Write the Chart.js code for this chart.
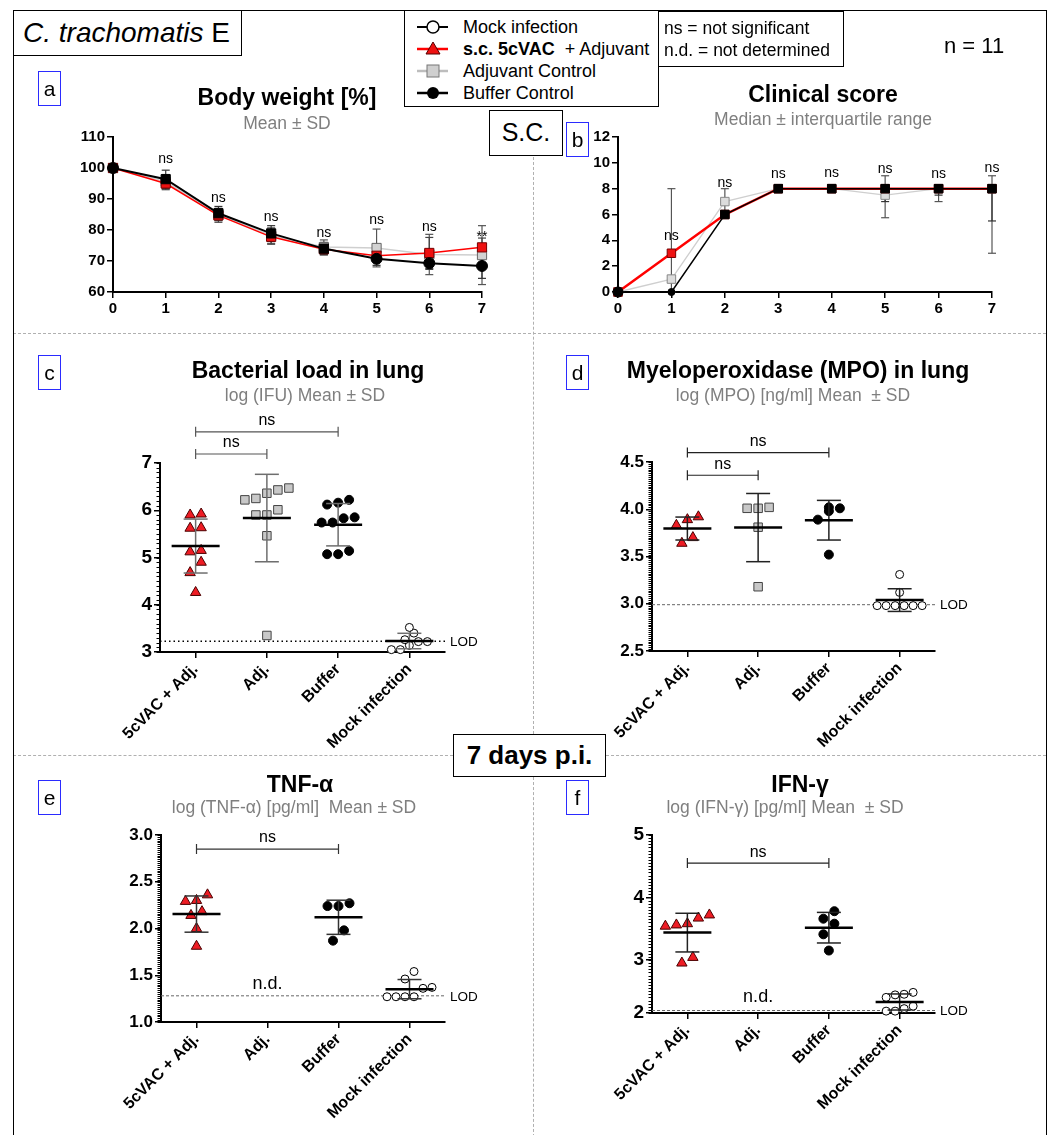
<!DOCTYPE html>
<html>
<head>
<meta charset="utf-8">
<title>C. trachomatis E</title>
<script src="https://cdn.jsdelivr.net/npm/chart.js@4.4.1/dist/chart.umd.min.js"></script>
<style>
  html, body { margin: 0; padding: 0; background: #fff; }
  body { font-family: "Liberation Sans", Arial, sans-serif; color: #000; }
  #page { position: relative; width: 1051px; height: 1135px; overflow: hidden; }
  #page > * { position: absolute; }
  .box { border: 1.5px solid #000; background: #fff; box-sizing: border-box; }
  .tag { border: 1.5px solid #2b2bff; box-sizing: border-box; width: 23px; height: 35px; font-size: 21px; line-height: 33px; text-align: center; }
  .ttl { font-weight: bold; font-size: 23px; line-height: 26px; white-space: nowrap; transform: translateX(-50%); }
  .sub { color: #7f7f7f; font-size: 17.5px; line-height: 20px; white-space: nowrap; transform: translateX(-50%); }
  .dh { height: 0; border-top: 1px dashed #b0b0b0; }
  .dv { width: 0; border-left: 1px dashed #b0b0b0; }
  .row { position: absolute; font-size: 18px; line-height: 20px; white-space: nowrap; }
</style>
</head>
<body>
<div id="page">
  <div class="dh" style="left:13px;top:333px;width:1033px;"></div>
  <div class="dh" style="left:13px;top:755px;width:440px;"></div>
  <div class="dh" style="left:606px;top:755px;width:440px;"></div>
  <div class="dv" style="left:533px;top:157px;height:577px;"></div>
  <div class="dv" style="left:533px;top:777px;height:360px;"></div>

  <canvas id="cA" width="440" height="190" style="left:63px;top:126px;"></canvas>
  <canvas id="cB" width="445" height="190" style="left:568px;top:126px;"></canvas>
  <canvas id="cC" width="380" height="365" style="left:100px;top:400px;"></canvas>
  <canvas id="cD" width="380" height="365" style="left:592px;top:400px;"></canvas>
  <canvas id="cE" width="380" height="323" style="left:100px;top:812px;"></canvas>
  <canvas id="cF" width="380" height="323" style="left:592px;top:812px;"></canvas>

  <div style="left:13px;top:10px;width:1034px;height:1200px;border:1.5px solid #000;box-sizing:border-box;"></div>

  <div class="box" style="left:13px;top:10px;width:229px;height:46px;font-size:28px;line-height:43px;padding-left:9px;"><i>C. trachomatis</i> E</div>

  <div class="box" style="left:404px;top:10px;width:255px;height:97px;">
    <svg width="255" height="97" style="position:absolute;left:0;top:0;">
      <line x1="12" y1="16" x2="43" y2="16" stroke="#000" stroke-width="2"/>
      <circle cx="28" cy="16" r="6" fill="#fff" stroke="#000" stroke-width="1.5"/>
      <line x1="12" y1="38" x2="43" y2="38" stroke="#ff0000" stroke-width="2.5"/>
      <polygon points="28,31 35,43 21,43" fill="#ee1111" stroke="#500" stroke-width="1"/>
      <line x1="12" y1="60" x2="43" y2="60" stroke="#bdbdbd" stroke-width="2.5"/>
      <rect x="22" y="54" width="12" height="12" fill="#cfcfcf" stroke="#777" stroke-width="1"/>
      <line x1="12" y1="82" x2="43" y2="82" stroke="#000" stroke-width="2.5"/>
      <circle cx="28" cy="82" r="6" fill="#000"/>
    </svg>
    <div class="row" style="left:58px;top:6px;">Mock infection</div>
    <div class="row" style="left:58px;top:28px;"><b>s.c. 5cVAC</b>&nbsp; + Adjuvant</div>
    <div class="row" style="left:58px;top:50px;">Adjuvant Control</div>
    <div class="row" style="left:58px;top:72px;">Buffer Control</div>
  </div>

  <div class="box" style="left:658px;top:11px;width:186px;height:56px;">
    <div class="row" style="left:5px;top:6px;font-size:17.5px;">ns = not significant</div>
    <div class="row" style="left:5px;top:28px;font-size:17.5px;">n.d. = not determined</div>
  </div>

  <div style="left:944px;top:34px;font-size:22px;line-height:24px;">n = 11</div>

  <div class="box" style="left:489px;top:110px;width:74px;height:46px;font-size:25px;line-height:43px;text-align:center;">S.C.</div>

  <div class="box" style="left:453px;top:734px;width:153px;height:43px;font-size:26px;font-weight:bold;line-height:40px;text-align:center;">7 days p.i.</div>

  <div class="tag" style="left:38px;top:71px;">a</div>
  <div class="tag" style="left:566px;top:122px;">b</div>
  <div class="tag" style="left:38px;top:355px;">c</div>
  <div class="tag" style="left:566px;top:355px;">d</div>
  <div class="tag" style="left:38px;top:780px;">e</div>
  <div class="tag" style="left:566px;top:780px;">f</div>

  <div class="ttl" style="left:287px;top:84px;">Body weight [%]</div>
  <div class="sub" style="left:287px;top:113px;">Mean ± SD</div>
  <div class="ttl" style="left:823px;top:81px;">Clinical score</div>
  <div class="sub" style="left:823px;top:109px;">Median ± interquartile range</div>
  <div class="ttl" style="left:308px;top:357px;">Bacterial load in lung</div>
  <div class="sub" style="left:305px;top:385px;">log (IFU) Mean ± SD</div>
  <div class="ttl" style="left:798px;top:357px;">Myeloperoxidase (MPO) in lung</div>
  <div class="sub" style="left:793px;top:385px;">log (MPO) [ng/ml] Mean &nbsp;± SD</div>
  <div class="ttl" style="left:300px;top:771px;">TNF-α</div>
  <div class="sub" style="left:294px;top:797px;">log (TNF-α) [pg/ml] &nbsp;Mean ± SD</div>
  <div class="ttl" style="left:800px;top:771px;">IFN-γ</div>
  <div class="sub" style="left:785px;top:797px;">log (IFN-γ) [pg/ml] Mean &nbsp;± SD</div>
</div>

<script>
// ---- data ----
const days = [0, 1, 2, 3, 4, 5, 6, 7];

// a: body weight [%] (mean, SD)
const bwVac = [100, 95.0, 84.7, 77.8, 73.8, 71.7, 72.6, 74.4];
const bwVacSd = [0, 2.0, 2.2, 2.4, 1.8, 1.5, 5.0, 3.0];
const bwAdj = [100, 95.6, 85.0, 78.2, 74.5, 74.2, 72.1, 71.9];
const bwAdjSd = [0, 2.3, 2.0, 2.5, 2.3, 6.1, 6.5, 9.5];
const bwBuf = [100, 96.4, 85.4, 78.9, 74.0, 70.7, 69.3, 68.4];
const bwBufSd = [0, 2.9, 2.2, 2.5, 2.0, 2.1, 2.0, 4.0];
const bwSig = ['', 'ns', 'ns', 'ns', 'ns', 'ns', 'ns', '**'];
const bwSigAt = [null, 102.8, 90.3, 84.3, 79.0, 83.2, 80.9, 77.8];

// b: clinical score (median, IQR)
const csVac = [0, 3, 6, 8, 8, 8, 8, 8];
const csAdj = [0, 1, 7, 8, 8, 7.5, 8, 8];
const csAdjLo = [0, 0, 6, 8, 8, 5.75, 7, 3];
const csAdjHi = [0, 8, 8, 8, 8, 9, 8, 9];
const csBuf = [0, 0, 6, 8, 8, 8, 8, 8];
const csBufLo = [0, 0, 6, 8, 8, 7, 7.5, 5.5];
const csBufHi = [0, 0, 6, 8, 8, 8, 8, 8];
const csSig = ['', 'ns', 'ns', 'ns', 'ns', 'ns', 'ns', 'ns'];
const csSigAt = [null, 4.3, 8.4, 9.1, 9.2, 9.5, 9.1, 9.6];

// c-f: single animals per group
const groups = ['5cVAC + Adj.', 'Adj.', 'Buffer', 'Mock infection'];

const lungVac = [5.90, 5.92, 5.62, 5.63, 5.12, 5.15, 4.90, 4.68, 4.26];
const lungAdj = [6.43, 6.47, 6.25, 6.22, 6.36, 6.01, 5.90, 5.90, 5.46, 3.35];
const lungBuf = [6.22, 6.12, 6.16, 5.85, 5.74, 5.74, 5.83, 5.14, 5.07, 5.07];
const lungMock = [3.52, 3.40, 3.26, 3.22, 3.22, 3.14, 3.05, 3.05];
const lungLod = 3.23;

const mpoVac = [3.92, 3.89, 3.83, 3.70, 3.64];
const mpoAdj = [4.02, 4.01, 4.01, 3.81, 3.18];
const mpoBuf = [4.02, 4.01, 3.98, 3.89, 3.52];
const mpoMock = [3.31, 3.12, 2.98, 2.98, 2.98, 2.98, 2.98, 2.98];
const mpoLod = 2.99;

const tnfVac = [2.36, 2.30, 2.29, 2.18, 2.14, 2.00, 1.81];
const tnfBuf = [2.27, 2.24, 2.24, 1.98, 1.87];
const tnfMock = [1.54, 1.46, 1.37, 1.36, 1.27, 1.27, 1.27, 1.27];
const tnfLod = 1.28;

const ifnVac = [3.72, 3.67, 3.58, 3.56, 3.54, 3.04, 2.95];
const ifnBuf = [3.78, 3.66, 3.58, 3.41, 3.15];
const ifnMock = [2.48, 2.45, 2.44, 2.40, 2.26, 2.22, 2.18, 2.18];
const ifnLod = 2.19;
const ifnTicks = [2.15, 3, 4, 5];
const ifnTickLabels = ['2', '3', '4', '5'];

// ---- drawing ----
const FONT = '"Liberation Sans", Arial, sans-serif';
Chart.defaults.font.family = FONT;
Chart.defaults.color = '#000';

function seg(ctx, x1, y1, x2, y2) {
  ctx.beginPath(); ctx.moveTo(x1, y1); ctx.lineTo(x2, y2); ctx.stroke();
}

// GraphPad-ish extras: error bars, mean/SD, brackets, LOD, minor ticks
const gp = {
  id: 'gp',
  beforeDatasetsDraw(chart, args, o) {
    const { ctx, chartArea: a, scales: { x, y } } = chart;
    ctx.save();
    if (o.lod != null) {
      const py = y.getPixelForValue(o.lod);
      ctx.strokeStyle = o.lodColor; ctx.lineWidth = o.lodWidth; ctx.setLineDash(o.lodDash);
      seg(ctx, a.left, py, a.right, py);
      ctx.setLineDash([]);
      ctx.fillStyle = '#000'; ctx.font = '13.5px ' + FONT;
      ctx.textAlign = 'left'; ctx.textBaseline = 'middle';
      ctx.fillText('LOD', a.right + 5, py + 1);
    }
    chart.data.datasets.forEach(ds => {
      if (!ds.errLo) return;
      ctx.strokeStyle = ds.errColor || '#444'; ctx.lineWidth = 1.2;
      ds.data.forEach((p, i) => {
        const lo = ds.errLo[i], hi = ds.errHi[i];
        if (lo === hi) return;
        const px = x.getPixelForValue(p.x);
        const y1 = y.getPixelForValue(lo), y2 = y.getPixelForValue(hi);
        seg(ctx, px, y1, px, y2);
        seg(ctx, px - 4, y1, px + 4, y1);
        seg(ctx, px - 4, y2, px + 4, y2);
      });
    });
    ctx.restore();
  },
  afterDatasetsDraw(chart, args, o) {
    const { ctx, chartArea: a, scales: { x, y } } = chart;
    ctx.save();
    if (o.meanSd) {
      chart.data.datasets.forEach(ds => {
        const v = ds.data.map(p => p.y), n = v.length;
        const m = v.reduce((s, t) => s + t, 0) / n;
        const sd = Math.sqrt(v.reduce((s, t) => s + (t - m) * (t - m), 0) / (n - 1));
        const cx = x.getPixelForValue(ds.cat);
        const yt = y.getPixelForValue(m + sd), yb = y.getPixelForValue(m - sd);
        const ym = y.getPixelForValue(m);
        ctx.strokeStyle = o.sdColor; ctx.lineWidth = 1.5;
        seg(ctx, cx, yt, cx, yb);
        seg(ctx, cx - 12, yt, cx + 12, yt);
        seg(ctx, cx - 12, yb, cx + 12, yb);
        ctx.strokeStyle = '#000'; ctx.lineWidth = 2.5;
        seg(ctx, cx - 24, ym, cx + 24, ym);
      });
    }
    (o.brackets || []).forEach(b => {
      const x1 = x.getPixelForValue(b.from), x2 = x.getPixelForValue(b.to);
      const py = y.getPixelForValue(b.y);
      ctx.strokeStyle = o.bracketColor || '#333'; ctx.lineWidth = 1.2;
      seg(ctx, x1, py, x2, py);
      seg(ctx, x1, py - 5, x1, py + 5);
      seg(ctx, x2, py - 5, x2, py + 5);
      ctx.fillStyle = '#000'; ctx.font = '16px ' + FONT;
      ctx.textAlign = 'center'; ctx.textBaseline = 'middle';
      ctx.fillText(b.text, (x1 + x2) / 2, py - 11);
    });
    (o.notes || []).forEach(t => {
      ctx.fillStyle = '#000'; ctx.font = (t.size || 18) + 'px ' + FONT;
      ctx.textAlign = 'center'; ctx.textBaseline = 'middle';
      ctx.fillText(t.text, x.getPixelForValue(t.x), y.getPixelForValue(t.y));
    });
    if (o.minor) {
      ctx.strokeStyle = '#000'; ctx.lineWidth = 1;
      const s = o.minor;
      for (let k = Math.ceil(y.min / s - 1e-6); k * s <= y.max + 1e-9; k++) {
        const py = Math.round(y.getPixelForValue(k * s)) + 0.5;
        seg(ctx, a.left - 3.5, py, a.left, py);
      }
    }
    ctx.restore();
  }
};

function yAxis(min, max, step, size, width, fmt) {
  return {
    type: 'linear', min, max,
    ticks: { stepSize: step, font: { size, weight: 'bold' }, color: '#000', padding: 2,
             callback: fmt || (v => v) },
    grid: { drawOnChartArea: false, tickLength: 6, color: '#000', lineWidth: 1.5 },
    border: { display: true, color: '#000', width: 2 },
    afterFit: s => { s.width = width; }
  };
}

// ---- a / b: time courses ----
function timeCourse(id, sets, ymin, ymax, ystep, sig, sigAt, size) {
  const notes = sig.map((t, i) => ({ x: days[i], y: sigAt[i], text: t, size }))
                   .filter(n => n.text);
  new Chart(document.getElementById(id), {
    type: 'line',
    data: { datasets: sets },
    options: {
      responsive: false, animation: false,
      layout: { padding: { top: 10, right: 21, left: 0, bottom: 0 } },
      plugins: { legend: { display: false }, tooltip: { enabled: false },
                 gp: { notes } },
      scales: {
        x: {
          type: 'linear', min: 0, max: 7,
          ticks: { stepSize: 1, font: { size: 15, weight: 'bold' }, color: '#000', padding: 2 },
          grid: { drawOnChartArea: false, tickLength: 6, color: '#000', lineWidth: 1.5 },
          border: { display: true, color: '#000', width: 2 },
          afterFit: s => { s.height = 24; }
        },
        y: yAxis(ymin, ymax, ystep, 15, 50)
      }
    },
    plugins: [gp]
  });
}

function series(vals, lo, hi, style) {
  return Object.assign({
    data: days.map((d, i) => ({ x: d, y: vals[i] })),
    errLo: lo, errHi: hi, tension: 0, clip: false, fill: false, pointBorderWidth: 1
  }, style);
}

const bwBufShape = ['circle', 'rect', 'rect', 'rect', 'rect', 'circle', 'circle', 'circle'];
const bwBufSize = [5.5, 6.5, 6.5, 6.5, 6.5, 5.5, 5.5, 5.5];

timeCourse('cA', [
  series(bwAdj, bwAdj.map((v, i) => v - bwAdjSd[i]), bwAdj.map((v, i) => v + bwAdjSd[i]),
    { borderColor: '#cfcfcf', borderWidth: 1.5, pointStyle: 'rect', pointRadius: 6.5,
      pointBackgroundColor: '#d2d2d2', pointBorderColor: '#666', errColor: '#555', order: 3 }),
  series(bwVac, bwVac.map((v, i) => v - bwVacSd[i]), bwVac.map((v, i) => v + bwVacSd[i]),
    { borderColor: '#ff0000', borderWidth: 1.5, pointStyle: 'rect', pointRadius: 6.5,
      pointBackgroundColor: '#ee1111', pointBorderColor: '#700', errColor: '#444', order: 2 }),
  series(bwBuf, bwBuf.map((v, i) => v - bwBufSd[i]), bwBuf.map((v, i) => v + bwBufSd[i]),
    { borderColor: '#000', borderWidth: 2, pointStyle: bwBufShape, pointRadius: bwBufSize,
      pointBackgroundColor: '#000', pointBorderColor: '#000', errColor: '#333', order: 1 })
], 60, 110, 10, bwSig, bwSigAt, 14);

const csBufShape = ['circle', 'circle', 'rect', 'rect', 'rect', 'rect', 'rect', 'rect'];
const csBufSize = [5, 3.5, 6, 6, 6, 6, 6, 6];

timeCourse('cB', [
  series(csAdj, csAdjLo, csAdjHi,
    { borderColor: '#cfcfcf', borderWidth: 1.3, pointStyle: 'rect', pointRadius: 6,
      pointBackgroundColor: '#dcdcdc', pointBorderColor: '#888', errColor: '#555', order: 3 }),
  series(csVac, csVac, csVac,
    { borderColor: '#ff0000', borderWidth: 2.5, pointStyle: 'rect', pointRadius: 6,
      pointBackgroundColor: '#ee1111', pointBorderColor: '#700', order: 2 }),
  series(csBuf, csBufLo, csBufHi,
    { borderColor: '#000', borderWidth: 1.5, pointStyle: csBufShape, pointRadius: csBufSize,
      pointBackgroundColor: '#000', pointBorderColor: '#000', errColor: '#333', order: 1 })
], 0, 12, 2, csSig, csSigAt, 14);

// ---- c-f: scatter with mean ± SD ----
// spread animals with (nearly) equal values side by side, like a column scatter
function swarm(vals, cat, pxPerUnit, gapPx, catPx) {
  const idx = vals.map((v, i) => i).sort((p, q) => vals[p] - vals[q]);
  const rows = [];
  let cur = null;
  idx.forEach(i => {
    if (cur && (vals[i] - vals[cur[0]]) * pxPerUnit < gapPx * 1.1) cur.push(i);
    else { cur = [i]; rows.push(cur); }
  });
  const out = [];
  rows.forEach(r => r.forEach((i, k) =>
    out.push({ x: cat + (k - (r.length - 1) / 2) * gapPx / catPx, y: vals[i] })));
  return out;
}

const markVac = { pointStyle: 'triangle', pointRadius: 6, pointBackgroundColor: '#ee1c24',
                  pointBorderColor: '#4a0000', pointBorderWidth: 1, gap: 11 };
const markAdj = { pointStyle: 'rect', pointRadius: 6, pointBackgroundColor: '#c8c8c8',
                  pointBorderColor: '#444', pointBorderWidth: 1, gap: 11 };
const markBuf = { pointStyle: 'circle', pointRadius: 4.5, pointBackgroundColor: '#000',
                  pointBorderColor: '#000', pointBorderWidth: 1, gap: 11 };
const markMock = { pointStyle: 'circle', pointRadius: 4, pointBackgroundColor: '#fff',
                   pointBorderColor: '#000', pointBorderWidth: 1, gap: 9 };

function dotPanel(id, sets, ycfg, lay, extra) {
  const c = document.getElementById(id);
  const areaH = c.height - lay.padTop - lay.xH;
  const areaW = c.width - lay.yW - lay.padRight;
  const ppu = areaH / (ycfg.max - ycfg.min);
  const catPx = areaW / groups.length;
  const datasets = sets.map(s => Object.assign({
    cat: s.cat, data: swarm(s.vals, s.cat, ppu, s.mark.gap, catPx),
    showLine: false, clip: false
  }, s.mark));
  const y = yAxis(ycfg.min, ycfg.max, ycfg.step, ycfg.size, lay.yW, ycfg.fmt);
  if (ycfg.ticks) {
    y.afterBuildTicks = s => { s.ticks = ycfg.ticks.map(v => ({ value: v })); };
    y.ticks.callback = (v, i) => ycfg.labels[i];
  }
  new Chart(c, {
    type: 'scatter',
    data: { datasets },
    options: {
      responsive: false, animation: false,
      layout: { padding: { top: lay.padTop, right: lay.padRight, left: 0, bottom: 0 } },
      plugins: { legend: { display: false }, tooltip: { enabled: false },
                 gp: Object.assign({ meanSd: true }, extra) },
      scales: {
        x: {
          type: 'linear', min: -0.5, max: groups.length - 0.5,
          afterBuildTicks: s => { s.ticks = groups.map((g, i) => ({ value: i })); },
          ticks: { callback: v => groups[v], minRotation: 45, maxRotation: 45,
                   font: { size: 16, weight: 'bold' }, color: '#000', padding: 2 },
          grid: { drawOnChartArea: false, tickLength: 6, color: '#000', lineWidth: 1.5 },
          border: { display: true, color: '#000', width: 2 },
          afterFit: s => { s.height = lay.xH; }
        },
        y
      }
    },
    plugins: [gp]
  });
}

const fix1 = v => v.toFixed(1);

dotPanel('cC', [
  { cat: 0, vals: lungVac, mark: markVac },
  { cat: 1, vals: lungAdj, mark: markAdj },
  { cat: 2, vals: lungBuf, mark: markBuf },
  { cat: 3, vals: lungMock, mark: markMock }
], { min: 3, max: 7, step: 1, size: 19 },
   { padTop: 63, xH: 113, yW: 60, padRight: 35 },
   { sdColor: '#6e6e6e', minor: 0.1, lod: lungLod, lodColor: '#000', lodWidth: 1.5, lodDash: [1.5, 3],
     bracketColor: '#555',
     brackets: [{ from: 0, to: 1, y: 7.19, text: 'ns' }, { from: 0, to: 2, y: 7.66, text: 'ns' }] });

dotPanel('cD', [
  { cat: 0, vals: mpoVac, mark: markVac },
  { cat: 1, vals: mpoAdj, mark: markAdj },
  { cat: 2, vals: mpoBuf, mark: markBuf },
  { cat: 3, vals: mpoMock, mark: markMock }
], { min: 2.5, max: 4.5, step: 0.5, size: 17, fmt: fix1 },
   { padTop: 62, xH: 114, yW: 60, padRight: 37 },
   { sdColor: '#222', minor: 0.02, lod: mpoLod, lodColor: '#666', lodWidth: 1, lodDash: [3, 2],
     bracketColor: '#222',
     brackets: [{ from: 0, to: 1, y: 4.36, text: 'ns' }, { from: 0, to: 2, y: 4.60, text: 'ns' }] });

dotPanel('cE', [
  { cat: 0, vals: tnfVac, mark: markVac },
  { cat: 2, vals: tnfBuf, mark: markBuf },
  { cat: 3, vals: tnfMock, mark: markMock }
], { min: 1, max: 3, step: 0.5, size: 17, fmt: fix1 },
   { padTop: 23, xH: 113, yW: 61, padRight: 35 },
   { sdColor: '#333', minor: 0.02, lod: tnfLod, lodColor: '#666', lodWidth: 1, lodDash: [3, 2],
     bracketColor: '#333',
     brackets: [{ from: 0, to: 2, y: 2.85, text: 'ns' }],
     notes: [{ x: 1, y: 1.41, text: 'n.d.' }] });

dotPanel('cF', [
  { cat: 0, vals: ifnVac, mark: markVac },
  { cat: 2, vals: ifnBuf, mark: markBuf },
  { cat: 3, vals: ifnMock, mark: markMock }
], { min: 2.15, max: 5, step: 1, size: 19, ticks: ifnTicks, labels: ifnTickLabels },
   { padTop: 23, xH: 122, yW: 60, padRight: 37 },
   { sdColor: '#222', minor: 0.05, lod: ifnLod, lodColor: '#666', lodWidth: 1, lodDash: [3, 2],
     bracketColor: '#222',
     brackets: [{ from: 0, to: 2, y: 4.55, text: 'ns' }],
     notes: [{ x: 1, y: 2.41, text: 'n.d.' }] });
</script>
</body>
</html>
